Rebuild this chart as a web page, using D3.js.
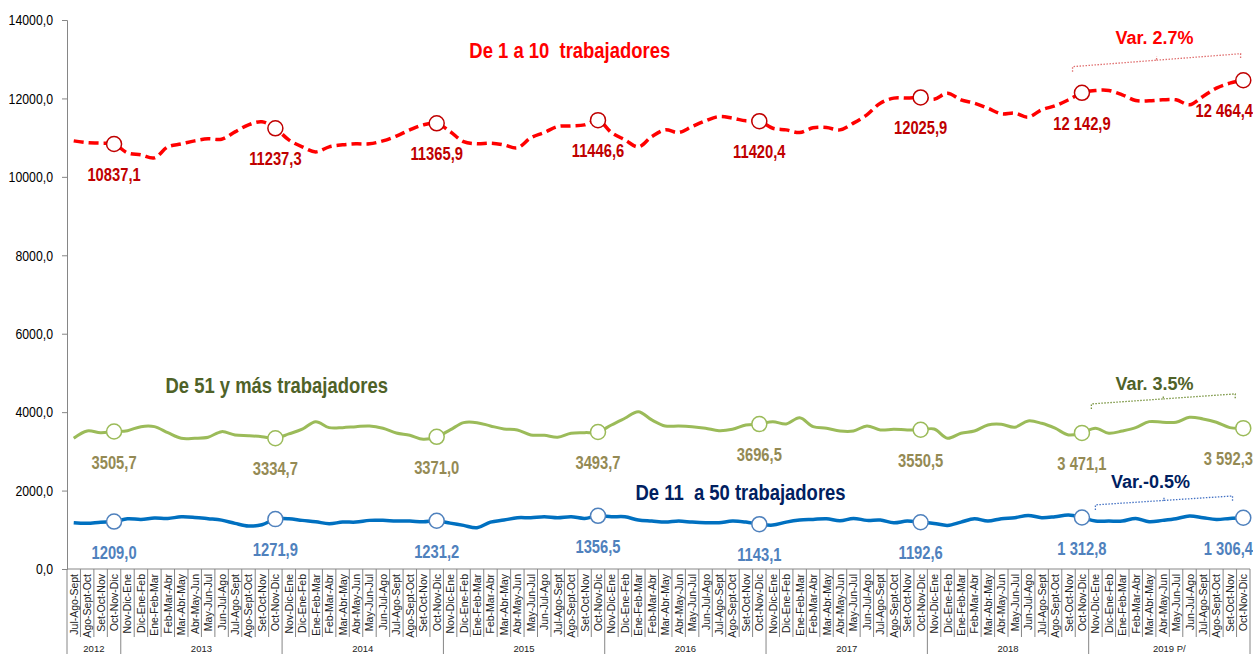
<!DOCTYPE html>
<html>
<head>
<meta charset="utf-8">
<script src="https://cdn.jsdelivr.net/npm/d3@7"></script>
<style>
  html, body { margin: 0; padding: 0; background: #fff; }
  svg { display: block; }
  text { font-family: "Liberation Sans", Arial, sans-serif; }
</style>
</head>
<body>
<svg id="chart" width="1253" height="654"></svg>
<script>
// rolling quarters, Jul-Ago-Sept 2012 .. Oct-Nov-Dic 2019
const months2012 = ["Jul-Ago-Sept", "Ago-Sept-Oct", "Set-Oct-Nov", "Oct-Nov-Dic"];
const monthsYear = ["Nov-Dic-Ene", "Dic-Ene-Feb", "Ene-Feb-Mar", "Feb-Mar-Abr", "Mar-Abr-May", "Abr-May-Jun",
  "May-Jun-Jul", "Jun-Jul-Ago", "Jul-Ago-Sept", "Ago-Sept-Oct", "Set-Oct-Nov", "Oct-Nov-Dic"];
const years = ["2012", "2013", "2014", "2015", "2016", "2017", "2018", "2019 P/"];
const categories = months2012.concat(...years.slice(1).map(() => monthsYear));

const micro = [ // De 1 a 10 trabajadores
  10918, 10870, 10860, 10837.1, 10612, 10560, 10485, 10765, 10840, 10918,
  10969, 10960, 11148, 11326, 11403, 11237.3, 10943, 10765, 10637, 10765,
  10816, 10842, 10842, 10918, 11040, 11198, 11326, 11365.9, 11155, 10900,
  10842, 10860, 10816, 10740, 10995, 11130, 11283, 11300, 11326, 11446.6,
  11130, 10943, 10765, 11028, 11198, 11130, 11283, 11428, 11538, 11497,
  11428, 11420.4, 11240, 11198, 11130, 11250, 11258, 11198, 11370, 11581,
  11880, 12008, 12008, 12025.9, 11980, 12135, 11964, 11880, 11752, 11607,
  11625, 11523, 11709, 11811, 11964, 12142.9, 12202, 12202, 12092, 11947,
  11939, 11964, 11964, 11837, 12050, 12263, 12390, 12464.4];
const large = [ // De 51 y más trabajadores
  3334, 3520, 3477, 3505.7, 3528, 3630, 3630, 3477, 3334, 3334,
  3360, 3503, 3418, 3400, 3375, 3334.7, 3444, 3564, 3758, 3605,
  3605, 3630, 3648, 3590, 3470, 3410, 3308, 3371.0, 3546, 3732,
  3732, 3648, 3571, 3546, 3418, 3410, 3360, 3462, 3477, 3493.7,
  3673, 3844, 4013, 3801, 3648, 3648, 3630, 3590, 3528, 3564,
  3673, 3696.5, 3758, 3699, 3857, 3630, 3590, 3520, 3520, 3648,
  3546, 3564, 3546, 3550.5, 3571, 3334, 3462, 3520, 3673, 3690,
  3615, 3776, 3716, 3590, 3418, 3471.1, 3590, 3462, 3520, 3605,
  3758, 3742, 3742, 3870, 3826, 3742, 3605, 3592.3];
const small = [ // De 11 a 50 trabajadores
  1180, 1165, 1195, 1209.0, 1283, 1265, 1298, 1290, 1330, 1316,
  1283, 1247, 1163, 1095, 1130, 1271.9, 1283, 1240, 1206, 1155,
  1196, 1196, 1240, 1240, 1222, 1222, 1206, 1231.2, 1170, 1112,
  1053, 1196, 1247, 1308, 1308, 1333, 1308, 1333, 1290, 1356.5,
  1333, 1333, 1247, 1222, 1196, 1222, 1196, 1180, 1180, 1222,
  1196, 1143.1, 1120, 1196, 1247, 1265, 1283, 1230, 1290, 1240,
  1247, 1180, 1222, 1192.6, 1163, 1112, 1196, 1283, 1222, 1283,
  1308, 1367, 1308, 1333, 1375, 1312.8, 1222, 1222, 1222, 1290,
  1206, 1240, 1283, 1349, 1308, 1265, 1290, 1306.4];

const markedIdx = [3, 15, 27, 39, 51, 63, 75, 87];
const microLabels = ["10837,1", "11237,3", "11365,9", "11446,6", "11420,4", "12025,9", "12 142,9", "12 464,4"];
const largeLabels = ["3505,7", "3334,7", "3371,0", "3493,7", "3696,5", "3550,5", "3 471,1", "3 592,3"];
const smallLabels = ["1209,0", "1271,9", "1231,2", "1356,5", "1143,1", "1192,6", "1 312,8", "1 306,4"];
const yTicks = [0, 2000, 4000, 6000, 8000, 10000, 12000, 14000];

// name / variation annotations, placed in data units (category index, value)
const series = [
  { values: micro, labels: microLabels, line: "#FF0000", dash: "10,5", width: 3.5, ring: "#C00000", text: "#C00000",
    name: "De 1 a 10  trabajadores", nameColor: "#FF0000", nameAt: [36.9, 13030],
    varText: "Var. 2.7%", varColor: "#FF0000", brace: [74.3, 12810, 86.8, 13140], braceColor: "#E07070", varAt: [80.4, 13390] },
  { values: large, labels: largeLabels, line: "#9BBB59", dash: null, width: 3, ring: "#9BBB59", text: "#948A54",
    name: "De 51 y más trabajadores", nameColor: "#4F6228", nameAt: [15.1, 4490],
    varText: "Var. 3.5%", varColor: "#4F6228", brace: [75.7, 4210, 86.4, 4465], braceColor: "#76923C", varAt: [80.4, 4566] },
  { values: small, labels: smallLabels, line: "#0070C0", dash: null, width: 3.5, ring: "#4F81BD", text: "#4F81BD",
    name: "De 11  a 50 trabajadores", nameColor: "#002060", nameAt: [49.6, 1760],
    varText: "Var.-0.5%", varColor: "#002060", brace: [76, 1635, 86.2, 1862], braceColor: "#4472C4", varAt: [80.1, 2066] }
];

const svg = d3.select("#chart");
const plotLeft = 67, plotRight = 1250, plotTop = 20, plotBottom = 569;
const NARROW = 0.82; // Arial Narrow look from Liberation Sans

const x = d3.scaleBand().domain(d3.range(categories.length)).range([plotLeft, plotRight]).padding(0);
const bw = x.bandwidth();
const cx = (i) => x(0) + (i + 0.5) * bw; // also works for fractional positions
const y = d3.scaleLinear().domain([0, 14000]).range([plotBottom, plotTop]);

function narrowText(sel, px, py) {
  return sel.append("text").attr("transform", `translate(${px},${py}) scale(${NARROW},1)`);
}

// y axis
const yAxis = svg.append("g")
  .attr("transform", `translate(${plotLeft},0)`)
  .call(d3.axisLeft(y).tickValues(yTicks).tickSize(5)
    .tickFormat((d) => d3.format(".1f")(d).replace(".", ",")));
yAxis.select(".domain").attr("stroke", "#868686");
yAxis.selectAll(".tick line").attr("stroke", "#868686");
yAxis.selectAll("text")
  .attr("x", 0)
  .attr("transform", `translate(-14,0) scale(${NARROW},1)`)
  .attr("font-size", 15)
  .attr("font-family", "Liberation Sans, Arial, sans-serif")
  .attr("fill", "#000");

// x axis: baseline, separators, category and year labels
const xg = svg.append("g");
xg.append("line").attr("x1", plotLeft).attr("x2", plotRight).attr("y1", plotBottom).attr("y2", plotBottom).attr("stroke", "#868686");
const groupStarts = [0, 4, 16, 28, 40, 52, 64, 76, 88];
d3.range(categories.length + 1).forEach((i) => {
  const xx = plotLeft + i * bw;
  xg.append("line")
    .attr("x1", xx).attr("x2", xx)
    .attr("y1", plotBottom).attr("y2", groupStarts.includes(i) ? 654 : 637)
    .attr("stroke", "#868686").attr("stroke-width", 1);
});
xg.selectAll("text.cat")
  .data(categories)
  .join("text")
  .attr("class", "cat")
  .attr("transform", (d, i) => `translate(${cx(i) + 4},${plotBottom + 5}) rotate(-90)`)
  .attr("text-anchor", "end")
  .attr("font-size", 10.5)
  .attr("fill", "#222")
  .text((d) => d);
xg.selectAll("text.year")
  .data(years)
  .join("text")
  .attr("class", "year")
  .attr("x", (d, i) => plotLeft + (groupStarts[i] + groupStarts[i + 1]) / 2 * bw)
  .attr("y", 652)
  .attr("text-anchor", "middle")
  .attr("font-size", 9.5)
  .attr("fill", "#222")
  .text((d) => d);

const line = d3.line()
  .x((d, i) => cx(i))
  .y((d) => y(d))
  .curve(d3.curveCatmullRom.alpha(0.5));

series.forEach((s) => {
  const g = svg.append("g");

  g.append("path")
    .datum(s.values)
    .attr("fill", "none")
    .attr("stroke", s.line)
    .attr("stroke-width", s.width)
    .attr("stroke-dasharray", s.dash)
    .attr("stroke-linejoin", "round")
    .attr("d", line);

  g.selectAll("circle")
    .data(markedIdx)
    .join("circle")
    .attr("cx", (i) => cx(i))
    .attr("cy", (i) => y(s.values[i]))
    .attr("r", 7.5)
    .attr("fill", "#fff")
    .attr("stroke", s.ring)
    .attr("stroke-width", 1.5);

  markedIdx.forEach((i, k) => {
    const last = k === markedIdx.length - 1;
    narrowText(g, last ? 1253 : cx(i), y(s.values[i]) + 37)
      .attr("text-anchor", last ? "end" : "middle")
      .attr("font-size", 18)
      .attr("font-weight", "bold")
      .attr("fill", s.text)
      .text(s.labels[k]);
  });

  // series name
  narrowText(g, cx(s.nameAt[0]), y(s.nameAt[1]))
    .attr("text-anchor", "middle")
    .attr("font-size", 22.5)
    .attr("font-weight", "bold")
    .attr("fill", s.nameColor)
    .style("white-space", "pre")
    .text(s.name);

  // variation brace
  const [i0, v0, i1, v1] = s.brace;
  const x0 = cx(i0), y0 = y(v0);
  const x1 = cx(i1), y1 = y(v1);
  const xm = (x0 + x1) / 2, ym = (y0 + y1) / 2;
  g.append("path")
    .attr("d", `M${x0},${y0 + 5} L${x0},${y0} L${xm},${ym} L${xm},${ym - 4} M${xm},${ym} L${x1},${y1} L${x1},${y1 + 5}`)
    .attr("fill", "none")
    .attr("stroke", s.braceColor)
    .attr("stroke-width", 1.3)
    .attr("stroke-dasharray", "1.5,1.5");

  g.append("text")
    .attr("x", cx(s.varAt[0]))
    .attr("y", y(s.varAt[1]))
    .attr("text-anchor", "middle")
    .attr("font-size", 18)
    .attr("font-weight", "bold")
    .attr("fill", s.varColor)
    .text(s.varText);
});
</script>
</body>
</html>
